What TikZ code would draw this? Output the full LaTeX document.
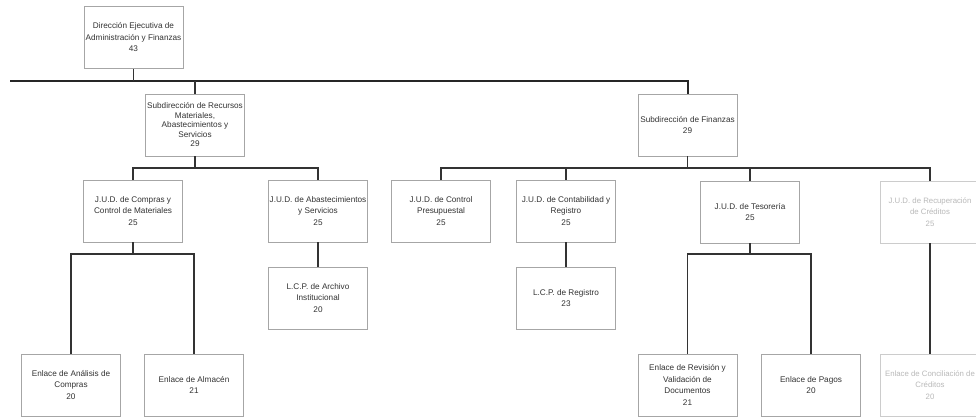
\documentclass[tikz,border=0pt]{standalone}
\usepackage{fontspec}
\setmainfont{Liberation Sans}
\begin{document}
\begin{tikzpicture}[x=1pt,y=-1pt,
  unit/.style={draw=gray!70,line width=.6pt,fill=white,minimum width=99pt,minimum height=62pt,
    align=center,inner sep=1pt,text=black!80,font=\fontsize{8.2}{11.5}\selectfont},
  faded/.style={unit,draw=gray!40,text=gray!55,font=\fontsize{7.8}{11.5}\selectfont},
  link/.style={line width=1.1pt,black!80},
  mainbar/.style={line width=2pt,black!85}]
\useasboundingbox (0,0) rectangle (976,418);
\foreach \nm/\x/\y/\txt in {
  dir/133.5/37.5/{Dirección Ejecutiva de\\Administración y Finanzas\\43},
  subfin/687.5/125/{Subdirección de Finanzas\\29},
  judcom/133/211/{J.U.D. de Compras y\\Control de Materiales\\25},
  judab/318/211/{J.U.D. de Abastecimientos\\y Servicios\\25},
  judcp/441/211/{J.U.D. de Control\\Presupuestal\\25},
  judcr/566/211/{J.U.D. de Contabilidad y\\Registro\\25},
  judte/750/212/{J.U.D. de Tesorería\\25},
  lcpai/318/298/{L.C.P. de Archivo\\Institucional\\20},
  lcpre/566/298/{L.C.P. de Registro\\23},
  enac/71/385/{Enlace de Análisis de\\Compras\\20},
  enal/194/385/{Enlace de Almacén\\21},
  enrv/687.5/385/{Enlace de Revisión y\\Validación de\\Documentos\\21},
  enpg/811/385/{Enlace de Pagos\\20}}
  \node[unit] (\nm) at (\x,\y) {\txt};
\node[unit,font=\fontsize{8.2}{9.5}\selectfont] (subrm) at (195,125)
  {Subdirección de Recursos\\Materiales,\\Abastecimientos y\\Servicios\\29};
\node[faded] (judrc) at (930,212) {J.U.D. de Recuperación\\de Créditos\\25};
\node[faded] (enco) at (930,385) {Enlace de Conciliación de\\Créditos\\20};

\coordinate (b1) at (10,81);
\draw[mainbar] (b1) -| (subfin.north);
\draw[link] (dir.south) -- (dir.south |- b1);
\draw[link] (subrm.north) -- (subrm.north |- b1);

\coordinate (b2) at (0,168);
\draw[link] (subrm.south) -- (subrm.south |- b2);
\draw[link] (judcom.north) -- (judcom.north |- b2) -- (judab.north |- b2) -- (judab.north);
\draw[link] (subfin.south) -- (subfin.south |- b2);
\draw[link] (judcp.north) -- (judcp.north |- b2) -- (judrc.north |- b2) -- (judrc.north);
\foreach \n in {judcr,judte}
  \draw[link] (\n.north) -- (\n.north |- b2);

\draw[link] (judab.south) -- (lcpai.north);
\draw[link] (judcr.south) -- (lcpre.north);
\draw[link] (judrc.south) -- (enco.north);

\coordinate (b3) at (0,254);
\draw[link] (judcom.south) -- (judcom.south |- b3);
\draw[link] (enac.north) -- (enac.north |- b3) -- (enal.north |- b3) -- (enal.north);
\draw[link] (judte.south) -- (judte.south |- b3);
\draw[link] (enrv.north) -- (enrv.north |- b3) -- (enpg.north |- b3) -- (enpg.north);
\end{tikzpicture}
\end{document}
